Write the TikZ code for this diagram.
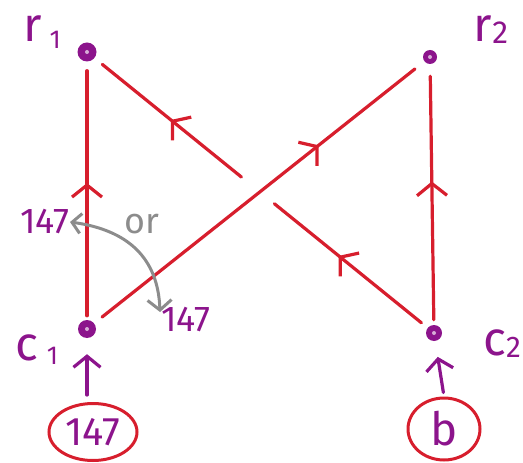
\documentclass[tikz,border=0pt]{standalone}
\usepackage{fontspec}
\setmainfont{Fira Sans}
\usetikzlibrary{arrows.meta,decorations.markings,calc,shapes.geometric}
\definecolor{hpurple}{RGB}{140,20,140}
\definecolor{hred}{RGB}{215,30,45}
\definecolor{hgray}{RGB}{140,140,140}
\begin{document}
\begin{tikzpicture}[x=1bp,y=-1bp,
  vdot/.style={circle,fill=hpurple,inner sep=0pt,minimum size=#1,
    path picture={\fill[hpurple!35!white] (path picture bounding box.center) circle (2bp);}},
  lbl/.style={text=hpurple,font=\fontsize{48}{48}\selectfont,inner sep=0pt},
  ketlbl/.style={text=hpurple,font=\fontsize{36}{36}\selectfont,inner sep=0pt},
  edgeline/.style={draw=hred,line width=3.2bp,line cap=round},
  midarr/.style={postaction={decorate},decoration={markings,
    mark=at position #1 with {\arrow{Straight Barb[length=12bp,width=30bp,line width=3.2bp]}}}},
  parr/.style={draw=hpurple,line width=3.2bp,line cap=round,-{Straight Barb[length=11bp,width=27bp,line width=3.2bp]}},
  garr/.style={draw=hgray,line width=3bp,line cap=round,{Straight Barb[length=9bp,width=20bp,line width=3bp]}-{Straight Barb[length=10bp,width=24bp,line width=3bp]}},
  inbox/.style={draw=hred,line width=3bp,ellipse,inner sep=0pt,text=hpurple}
]
\useasboundingbox (0,0) rectangle (523,463);
% vertices
\node[vdot=19bp] (r1) at (87,52) {};
\node[vdot=14bp] (r2) at (430,57) {};
\node[vdot=18bp] (c1) at (87,329) {};
\node[vdot=16bp] (c2) at (434,333) {};
% vertex labels
\node[lbl] (r1l) at (42,32) {r\,\raisebox{-7bp}{\fontsize{26}{26}\selectfont 1}};
\node[lbl] (r2l) at (491,30) {r\raisebox{-2bp}{\fontsize{32}{32}\selectfont 2}};
\node[lbl] (c1l) at (37,350) {c\,\raisebox{-4bp}{\fontsize{26}{26}\selectfont 1}};
\node[lbl,anchor=east] (c2l) at (521,344) {c\raisebox{-2bp}{\fontsize{30}{30}\selectfont 2}};
% inputs
\node[inbox,minimum width=88bp,minimum height=57bp,font=\fontsize{40}{40}\selectfont] (in1) at (93,432) {147};
\node[inbox,minimum width=72bp,minimum height=62bp,font=\fontsize{46}{46}\selectfont] (in2) at (444,429) {b};
\draw[parr,shorten <=7bp,shorten >=16bp] (in1.north -| c1) -- (c1);
\draw[parr,shorten <=4bp,shorten >=16bp] (in2.north) -- (c2);
% red edges
\draw[edgeline,midarr=0.53,shorten <=4bp,shorten >=9bp] (c1) -- (r1);
\draw[edgeline,midarr=0.55,shorten <=5bp,shorten >=12bp] (c2) -- (r2);
\draw[edgeline,midarr=0.68,shorten <=10bp,shorten >=12bp] (c1) -- (r2);
\draw[edgeline,midarr=0.58,shorten <=8bp] (c2) -- ($(c2)!0.46!(r1)$);
\draw[edgeline,midarr=0.48,shorten >=10bp] ($(c2)!0.555!(r1)$) -- (r1);
% alternative placement
\node[ketlbl] (up147) at (45,222) {147};
\node[ketlbl] (low147) at (186,320) {147};
\node[text=hgray,font=\fontsize{36}{36}\selectfont,inner sep=0pt] (or) at (142,224) {or};
\coordinate (gb) at (160,312);
\draw[garr] (up147.east) .. controls (128,230) and (158,258) .. (gb);
\end{tikzpicture}
\end{document}
